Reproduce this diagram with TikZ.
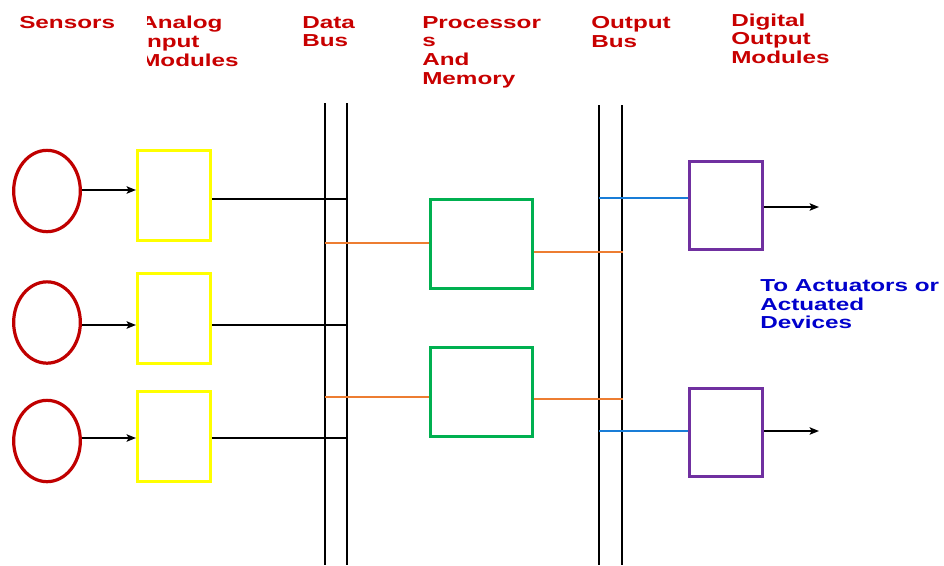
\documentclass[tikz,border=0pt]{standalone}
\usepackage{fontspec}
\newfontfamily\labfont{Liberation Sans}[UprightFont={* Bold},FakeStretch=1.4]
\usetikzlibrary{arrows.meta,shapes.geometric}
\definecolor{sred}{RGB}{192,0,0}
\definecolor{tred}{RGB}{200,0,0}
\definecolor{lblue}{RGB}{0,0,204}
\definecolor{ygold}{RGB}{255,255,0}
\definecolor{pgreen}{RGB}{0,176,80}
\definecolor{dpurple}{RGB}{112,48,160}
\definecolor{orng}{RGB}{237,125,49}
\definecolor{lnblue}{RGB}{25,125,215}
\begin{document}
\begin{tikzpicture}[x=0.75pt,y=-0.75pt,
  sensor/.style={ellipse, draw=sred, line width=2.4pt, minimum width=50pt, minimum height=61pt, inner sep=0pt},
  inmod/.style={rectangle, draw=ygold, line width=2.25pt, minimum width=54.75pt, minimum height=67.5pt, inner sep=0pt},
  proc/.style={rectangle, draw=pgreen, line width=2.25pt, minimum width=76.5pt, minimum height=66.75pt, inner sep=0pt},
  outmod/.style={rectangle, draw=dpurple, line width=2.25pt, minimum width=54.75pt, minimum height=66pt, inner sep=0pt},
  bus/.style={line width=2pt, black},
  wire/.style={line width=1.6pt},
  arr/.style={wire, -{Stealth[length=7pt,width=5.5pt,inset=1.5pt]}},
  lab/.style={anchor=north west, inner sep=0pt, align=left, text=tred,
    font=\labfont\fontsize{13pt}{14pt}\selectfont}
]
\useasboundingbox[fill=white] (0,0) rectangle (944,565);

% buses
\draw[bus] (325,103) -- (325,565);
\draw[bus] (347,103) -- (347,565);
\draw[bus] (599,105) -- (599,565);
\draw[bus] (622,105) -- (622,565);

% sensors
\node[sensor] (s1) at (47,191) {};
\node[sensor] (s2) at (47,322.5) {};
\node[sensor] (s3) at (47,441) {};

% analog input modules
\node[inmod] (y1) at (174,195.5) {};
\node[inmod] (y2) at (174,318) {};
\node[inmod] (y3) at (174,436.5) {};

% processors
\node[proc] (g1) at (481.5,244) {};
\node[proc] (g2) at (481.5,392) {};

% output modules
\node[outmod] (u1) at (726,205.5) {};
\node[outmod] (u2) at (726,432) {};

% coordinates
\coordinate (a1) at (110,190);
\coordinate (a2) at (110,325);
\coordinate (a3) at (110,438);
\coordinate (d1) at (347,199);
\coordinate (d2) at (347,325);
\coordinate (d3) at (347,438);
\coordinate (o1) at (325,243);
\coordinate (o2) at (325,397);
\coordinate (p1) at (623,252);
\coordinate (p2) at (623,399);
\coordinate (q1) at (599,198);
\coordinate (q2) at (599,431);
\coordinate (t1) at (819,207);
\coordinate (t2) at (819,431);

% sensor arrows
\draw[arr] (s1.east |- a1) -- (y1.west |- a1);
\draw[arr] (s2.east |- a2) -- (y2.west |- a2);
\draw[arr] (s3.east |- a3) -- (y3.west |- a3);

% input modules to data bus
\draw[wire] (y1.east |- d1) -- (d1);
\draw[wire] (y2.east |- d2) -- (d2);
\draw[wire] (y3.east |- d3) -- (d3);

% data bus to processors
\draw[wire,orng] (o1) -- (o1 -| g1.west);
\draw[wire,orng] (o2) -- (o2 -| g2.west);

% processors to output bus
\draw[wire,orng] (g1.east |- p1) -- (p1);
\draw[wire,orng] (g2.east |- p2) -- (p2);

% output bus to output modules
\draw[wire,lnblue] (q1) -- (q1 -| u1.west);
\draw[wire,lnblue] (q2) -- (q2 -| u2.west);

% outputs
\draw[arr] (u1.east |- t1) -- (t1);
\draw[arr] (u2.east |- t2) -- (t2);

% labels
\node[lab] (lsens) at (19,16) {Sensors};
\begin{scope}
  \clip (147,0) rectangle (295,100);
  \node[lab] (lin) at (140,16) {Analog\\Input\\Modules};
\end{scope}
\node[lab] (ldb) at (302,16) {Data\\Bus};
\node[lab] (lproc) at (422,16) {Processor\\s\\And\\Memory};
\node[lab] (lob) at (591,16) {Output\\Bus};
\node[lab] (ldo) at (731,13.3) {Digital\\Output\\Modules};
\node[lab,text=lblue] (lact) at (760,279.3) {To Actuators or\\Actuated\\Devices};
\end{tikzpicture}
\end{document}
